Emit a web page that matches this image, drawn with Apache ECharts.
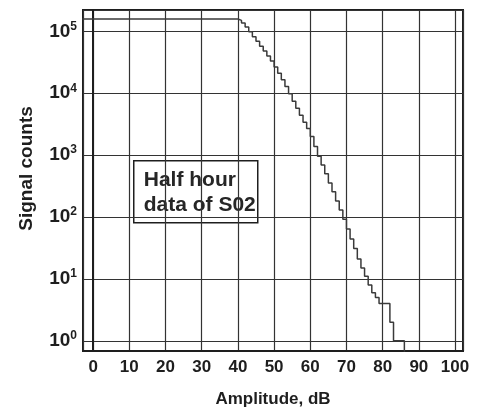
<!DOCTYPE html>
<html>
<head>
<meta charset="utf-8">
<script src="https://cdn.jsdelivr.net/npm/echarts@6/dist/echarts.min.js"></script>
<style>
  html, body { margin: 0; padding: 0; background: #ffffff; }
  #chart { width: 483px; height: 407px; }
</style>
</head>
<body>
<div id="chart"></div>
<script>
// Cumulative amplitude distribution, half hour of sensor S02.
// Each entry: start of a 1 dB amplitude bin and the number of hits at or above it.
const amplitude = [
  -3, 40, 41, 42, 43, 44, 45, 46, 47, 48, 49,
  50, 51, 52, 53, 54, 55, 56, 57, 58, 59,
  60, 61, 62, 63, 64, 65, 66, 67, 68, 69,
  70, 71, 72, 73, 74, 75, 76, 77, 78, 79,
  80, 81, 82, 83, 84, 85, 86
];
const counts = [
  158000, 150000, 136000, 117000, 98000, 82000, 69000, 57500, 48000, 40000, 33000,
  26500, 21000, 16500, 12800, 9800, 7400, 5700, 4400, 3400, 2700,
  2000, 1380, 960, 690, 500, 355, 255, 182, 130, 92,
  64, 44, 31, 21, 15, 11, 8, 6, 5, 4,
  4, 4, 2, 1, 1, 1, 0
];
// Axis ranges
const xRange = [-2.8, 102.2];
const yRange = [0.684, 221000];
const boxText = ['Half hour', 'data of S02'];
const xTitle = 'Amplitude, dB';
const yTitle = 'Signal counts';

// zero counts cannot sit on a log scale: send them below the frame so the step drops out
const LOG_FLOOR = 0.1;
const seriesData = amplitude.map((a, i) => [a, counts[i] > 0 ? counts[i] : LOG_FLOOR]);

const ink = '#1e1e1e';
const gridInk = '#333333';
const font = '"Liberation Sans", Arial, sans-serif';

const chart = echarts.init(document.getElementById('chart'), null, { renderer: 'canvas' });
chart.setOption({
  animation: false,
  backgroundColor: '#ffffff',
  grid: {
    left: 83, right: 20, top: 10, bottom: 56,
    outerBoundsMode: 'none',
    containLabel: false,
    show: true, borderColor: ink, borderWidth: 2, backgroundColor: 'transparent'
  },
  xAxis: {
    type: 'value',
    min: xRange[0], max: xRange[1],
    splitNumber: 10,
    name: xTitle,
    nameLocation: 'middle',
    nameGap: 40,
    nameTextStyle: { fontFamily: font, fontWeight: 'bold', fontSize: 17, color: ink },
    axisLine: { show: true, lineStyle: { color: ink, width: 2 } },
    axisTick: { show: false },
    axisLabel: {
      margin: 8,
      fontFamily: font, fontWeight: 'bold', fontSize: 17, color: ink,
      formatter: v => (Math.abs(v % 10) < 1e-9 ? String(v) : '')
    },
    splitLine: { show: true, lineStyle: { color: gridInk, width: 1.2 } }
  },
  yAxis: {
    type: 'log',
    logBase: 10,
    min: yRange[0], max: yRange[1],
    name: yTitle,
    nameLocation: 'middle',
    nameGap: 47,
    nameTextStyle: { fontFamily: font, fontWeight: 'bold', fontSize: 19, color: ink, padding: [0, 0, 0, 24] },
    axisLine: { show: true, lineStyle: { color: ink, width: 2 } },
    axisTick: { show: false },
    axisLabel: {
      margin: 6,
      formatter: v => {
        const e = Math.log10(v);
        if (Math.abs(e - Math.round(e)) > 1e-6) return '';
        return '{b|10}{s|' + Math.round(e) + '}';
      },
      rich: {
        b: { fontFamily: font, fontWeight: 'bold', fontSize: 19, color: ink, lineHeight: 22 },
        s: { fontFamily: font, fontWeight: 'bold', fontSize: 12, color: ink, verticalAlign: 'top', lineHeight: 22, padding: [0, 0, 9, 0] }
      }
    },
    splitLine: { show: true, lineStyle: { color: gridInk, width: 1.2 } }
  },
  series: [{
    type: 'line',
    step: 'end',
    data: seriesData,
    symbol: 'none',
    clip: true,
    lineStyle: { color: '#3a3a3a', width: 1.5 }
  }],
  graphic: [{
    type: 'group',
    left: 133, top: 160,
    children: [
      {
        type: 'rect',
        shape: { x: 0, y: 0, width: 124, height: 62 },
        style: { fill: '#ffffff', stroke: ink, lineWidth: 1.5 }
      },
      {
        type: 'text',
        x: 10, y: 7,
        style: {
          text: boxText.join('\n'),
          font: 'bold 21px ' + font,
          fill: '#262626',
          lineHeight: 25
        }
      }
    ]
  }]
});
</script>
</body>
</html>
